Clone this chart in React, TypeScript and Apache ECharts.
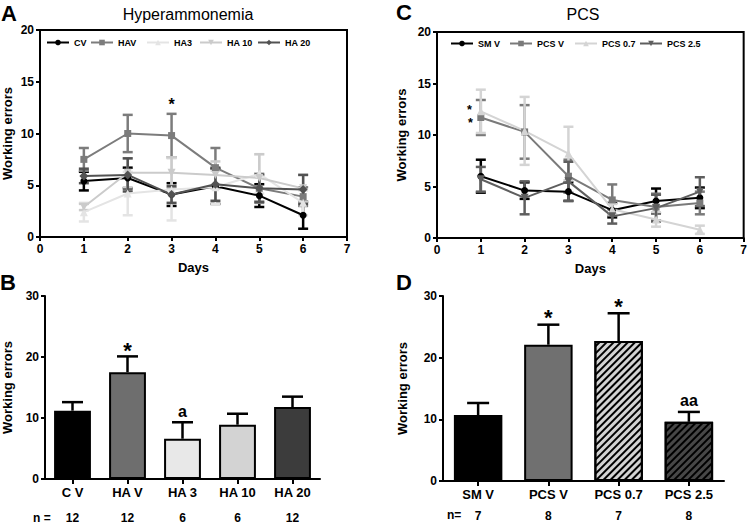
import React, { useEffect, useRef } from "react";
import * as echarts from "echarts";

// ---------- DATA ----------
const days = [1, 2, 3, 4, 5, 6];

// Panel A – Hyperammonemia (mean, SEM)
const cvMean = [5.4, 5.7, 4.1, 4.9, 4.0, 2.1];
const cvErr = [0.9, 1.0, 1.1, 1.7, 1.1, 1.3];
const havMean = [7.5, 10.0, 9.8, 6.7, 4.7, 3.9];
const havErr = [1.1, 1.8, 2.1, 1.9, 1.4, 0.9];
const ha3Mean = [2.4, 4.2, 4.6, 4.8, 6.1, 3.3];
const ha3Err = [0.9, 2.1, 3.0, 1.6, 1.9, 1.2];
const ha10Mean = [2.9, 6.2, 6.2, 6.0, 5.7, 4.7];
const ha10Err = [0.3, 1.4, 1.5, 1.3, 2.3, 1.3];
const ha20Mean = [5.9, 6.0, 4.1, 5.1, 4.7, 4.6];
const ha20Err = [0.7, 1.6, 0.8, 1.6, 1.3, 1.4];

// Panel C – PCS (mean, SEM)
const smvMean = [6.0, 4.6, 4.5, 2.7, 3.6, 3.9];
const smvErr = [1.6, 0.8, 0.9, 0.7, 1.2, 1.0];
const pcsvMean = [11.7, 10.3, 6.0, 3.7, 3.0, 3.4];
const pcsvErr = [1.7, 2.6, 1.6, 1.5, 1.3, 1.1];
const pcs07Mean = [12.3, 10.4, 8.2, 2.8, 1.8, 0.8];
const pcs07Err = [2.1, 3.3, 2.6, 0.5, 0.7, 0.4];
const pcs25Mean = [5.7, 3.9, 5.5, 2.1, 2.9, 4.5];
const pcs25Err = [1.2, 1.6, 1.9, 0.7, 1.3, 1.4];

// Panel B – totals
const bCategories = ["C V", "HA V", "HA 3", "HA 10", "HA 20"];
const bValues = [11.2, 17.5, 6.6, 8.9, 11.8];
const bErrors = [1.4, 2.6, 2.7, 1.8, 1.7];
const bN = [12, 12, 6, 6, 12];

// Panel D – totals
const dCategories = ["SM V", "PCS V", "PCS 0.7", "PCS 2.5"];
const dValues = [10.7, 22.1, 22.7, 9.6];
const dErrors = [1.95, 3.25, 4.5, 1.6];
const dN = [7, 8, 7, 8];

// ---------- STYLE ----------
const FONT = '"Liberation Sans", Arial, Helvetica, sans-serif';
const BLACK = "#000";

type Note = { idx: number; text: string; size: number; gap: number; side: "top" | "left"; dy?: number };

function errorSeries(
  name: string,
  gi: number,
  xs: number[],
  means: number[],
  errs: number[],
  color: string,
  capHalf: number,
  upOnly: boolean,
  notes: Note[] = [],
  lw = 2.5
) {
  return {
    type: "custom",
    name: name + "__err",
    xAxisIndex: gi,
    yAxisIndex: gi,
    z: 2,
    silent: true,
    data: xs.map((x, i) => [x, means[i], errs[i]]),
    renderItem: (params: any, api: any) => {
      const x = api.value(0);
      const m = api.value(1);
      const e = api.value(2);
      const pm = api.coord([x, m]);
      const pt = api.coord([x, m + e]);
      const pb = upOnly ? pm : api.coord([x, m - e]);
      const st = { stroke: color, lineWidth: lw };
      const children: any[] = [
        { type: "line", shape: { x1: pm[0], y1: pb[1], x2: pm[0], y2: pt[1] }, style: st },
        { type: "line", shape: { x1: pm[0] - capHalf, y1: pt[1], x2: pm[0] + capHalf, y2: pt[1] }, style: st },
      ];
      if (!upOnly) {
        children.push({
          type: "line",
          shape: { x1: pm[0] - capHalf, y1: pb[1], x2: pm[0] + capHalf, y2: pb[1] },
          style: st,
        });
      }
      notes
        .filter((n) => n.idx === params.dataIndex)
        .forEach((n) => {
          const common: any = {
            text: n.text,
            fontSize: n.size,
            fontWeight: "bold",
            fontFamily: FONT,
            fill: BLACK,
          };
          if (n.side === "top") {
            children.push({
              type: "text",
              x: pm[0],
              y: pt[1] - n.gap,
              style: { ...common, align: "center", verticalAlign: "bottom" },
            });
          } else {
            children.push({
              type: "text",
              x: pm[0] - n.gap,
              y: pm[1] + (n.dy || 0),
              style: { ...common, align: "right", verticalAlign: "middle" },
            });
          }
        });
      return { type: "group", children };
    },
  };
}

type LineDef = {
  name: string;
  mean: number[];
  err: number[];
  color: string;
  symbol: string;
  size: number;
  rotate?: number;
  notes?: Note[];
};

const aLines: LineDef[] = [
  { name: "CV", mean: cvMean, err: cvErr, color: "#000000", symbol: "circle", size: 7 },
  {
    name: "HAV", mean: havMean, err: havErr, color: "#7c7c7c", symbol: "rect", size: 7,
    notes: [{ idx: 2, text: "*", size: 16, gap: 1, side: "top" }],
  },
  { name: "HA3", mean: ha3Mean, err: ha3Err, color: "#e4e4e4", symbol: "triangle", size: 8 },
  { name: "HA 10", mean: ha10Mean, err: ha10Err, color: "#cbcbcb", symbol: "triangle", size: 8, rotate: 180 },
  { name: "HA 20", mean: ha20Mean, err: ha20Err, color: "#525252", symbol: "diamond", size: 9 },
];

const cLines: LineDef[] = [
  { name: "SM V", mean: smvMean, err: smvErr, color: "#000000", symbol: "circle", size: 7 },
  {
    name: "PCS V", mean: pcsvMean, err: pcsvErr, color: "#7a7a7a", symbol: "rect", size: 7,
    notes: [{ idx: 0, text: "*", size: 12.5, gap: 8, side: "left", dy: 5.2 }],
  },
  {
    name: "PCS 0.7", mean: pcs07Mean, err: pcs07Err, color: "#d4d4d4", symbol: "triangle", size: 8,
    notes: [{ idx: 0, text: "*", size: 12.5, gap: 9, side: "left", dy: -1.8 }],
  },
  { name: "PCS 2.5", mean: pcs25Mean, err: pcs25Err, color: "#5e5e5e", symbol: "triangle", size: 8, rotate: 180 },
];

function buildLineSeries(defs: LineDef[], gi: number) {
  const out: any[] = [];
  defs.forEach((d) => {
    out.push(errorSeries(d.name, gi, days, d.mean, d.err, d.color, 5, false, d.notes || [], 2.5));
  });
  defs.forEach((d) => {
    out.push({
      type: "line",
      name: d.name,
      xAxisIndex: gi,
      yAxisIndex: gi,
      z: 3,
      data: days.map((x, i) => [x, d.mean[i]]),
      symbol: d.symbol,
      symbolSize: d.size,
      symbolRotate: d.rotate || 0,
      showAllSymbol: true,
      lineStyle: { color: d.color, width: 2 },
      itemStyle: { color: d.color, borderWidth: 0 },
    });
  });
  return out;
}

const axisLine = { show: true, onZero: false, lineStyle: { color: BLACK, width: 2 } };
const tickStyle = { show: true, length: 4, lineStyle: { color: BLACK, width: 2 } };
const tickLabel = (size: number, margin: number) => ({
  color: BLACK,
  fontSize: size,
  fontWeight: "bold" as const,
  fontFamily: FONT,
  margin,
});
const nameStyle = { color: BLACK, fontSize: 13, fontWeight: "bold" as const, fontFamily: FONT };

function dayAxis(gi: number) {
  return {
    type: "value",
    gridIndex: gi,
    min: 0,
    max: 7,
    interval: 1,
    axisLine,
    axisTick: tickStyle,
    axisLabel: tickLabel(12, 6),
    splitLine: { show: false },
    name: "Days",
    nameLocation: "middle",
    nameGap: 24,
    nameTextStyle: nameStyle,
  };
}

function errAxis(gi: number, max: number, interval: number, gap: number) {
  return {
    type: "value",
    gridIndex: gi,
    min: 0,
    max,
    interval,
    axisLine,
    axisTick: tickStyle,
    axisLabel: tickLabel(12, 6),
    splitLine: { show: false },
    name: "Working errors",
    nameLocation: "middle",
    nameGap: gap,
    nameTextStyle: nameStyle,
  };
}

function catAxis(gi: number, cats: string[], ns: number[], lineH: number, margin: number) {
  return {
    type: "category",
    gridIndex: gi,
    data: cats,
    axisLine,
    axisTick: { ...tickStyle, length: 5, alignWithLabel: true },
    axisLabel: {
      margin,
      interval: 0,
      formatter: (v: string, i: number) => `{c|${v}}\n{n|${ns[i]}}`,
      rich: {
        c: { fontSize: 13, fontWeight: "bold", fontFamily: FONT, color: BLACK, lineHeight: lineH },
        n: { fontSize: 12, fontWeight: "bold", fontFamily: FONT, color: BLACK, lineHeight: lineH },
      },
    },
  };
}

const bColors = ["#000000", "#6e6e6e", "#e8e8e8", "#d3d3d3", "#3c3c3c"];
const dColors = ["#000000", "#707070", "#d3d3d3", "#474747"];
const hatch = {
  symbol: "rect",
  symbolSize: 1,
  color: "#000",
  dashArrayX: [1, 0],
  dashArrayY: [1.5, 2.2],
  rotation: -Math.PI / 4,
};

const bSeries = {
  type: "bar",
  name: "B",
  xAxisIndex: 2,
  yAxisIndex: 2,
  barWidth: "67%",
  z: 3,
  data: bValues.map((v, i) => ({
    value: v,
    itemStyle: { color: bColors[i], borderColor: BLACK, borderWidth: 2 },
  })),
};

const dSeries = {
  type: "bar",
  name: "D",
  xAxisIndex: 3,
  yAxisIndex: 3,
  barWidth: "69%",
  z: 3,
  data: dValues.map((v, i) => ({
    value: v,
    itemStyle: {
      color: dColors[i],
      borderColor: BLACK,
      borderWidth: 2,
      ...(i >= 2 ? { decal: hatch } : {}),
    },
  })),
};

function legendItems(defs: LineDef[], lefts: number[], top: number) {
  return defs.map((d, i) => ({
    data: [d.name],
    left: lefts[i],
    top,
    itemWidth: 22,
    itemHeight: 7,
    padding: 0,
    textStyle: { fontSize: 9, fontWeight: "bold", fontFamily: FONT, color: BLACK },
    selectedMode: false,
  }));
}

function label(text: string, x: number, y: number, size: number, weight = "bold", align = "center") {
  return {
    type: "text",
    x,
    y,
    style: {
      text,
      fontSize: size,
      fontWeight: weight,
      fontFamily: FONT,
      fill: BLACK,
      align,
      verticalAlign: "middle",
    },
  };
}

const option = {
  animation: false,
  backgroundColor: "#ffffff",
  grid: [
    { left: 37, top: 30, width: 310, height: 207, show: true, borderColor: BLACK, borderWidth: 2, backgroundColor: "transparent" },
    { left: 437, top: 32, width: 309, height: 206, show: true, borderColor: BLACK, borderWidth: 2, backgroundColor: "transparent" },
    { left: 42, top: 296, width: 278, height: 183 },
    { left: 443, top: 296, width: 281, height: 185 },
  ],
  xAxis: [dayAxis(0), dayAxis(1), catAxis(2, bCategories, bN, 26, 0), catAxis(3, dCategories, dN, 21, 3)],
  yAxis: [
    errAxis(0, 20, 5, 26),
    errAxis(1, 20, 5, 29),
    errAxis(2, 30, 10, 31),
    errAxis(3, 30, 10, 34),
  ],
  legend: [
    ...legendItems(aLines, [46, 90, 146, 199, 257], 38),
    ...legendItems(cLines, [450, 509, 574, 639], 39),
  ],
  series: [
    ...buildLineSeries(aLines, 0),
    ...buildLineSeries(cLines, 1),
    bSeries,
    errorSeries("B", 2, bValues.map((_, i) => i), bValues, bErrors, BLACK, 10.5, true, [
      { idx: 1, text: "*", size: 22, gap: -5, side: "top" },
      { idx: 2, text: "a", size: 16, gap: 3, side: "top" },
    ]),
    dSeries,
    errorSeries("D", 3, dValues.map((_, i) => i), dValues, dErrors, BLACK, 11, true, [
      { idx: 1, text: "*", size: 22, gap: -4, side: "top" },
      { idx: 2, text: "*", size: 22, gap: -4, side: "top" },
      { idx: 3, text: "aa", size: 16, gap: 3, side: "top" },
    ]),
  ],
  graphic: [
    label("A", 9, 13, 22),
    label("B", 8, 282, 22),
    label("C", 404, 12, 22),
    label("D", 404, 282, 22),
    label("Hyperammonemia", 188, 14, 16, "normal"),
    label("PCS", 583, 14, 16, "normal"),
    label("n =", 33, 518, 12, "bold", "left"),
    label("n=", 447, 515, 12, "bold", "left"),
  ],
};

export default function App() {
  const ref = useRef<HTMLDivElement>(null);
  useEffect(() => {
    if (!ref.current) return;
    const chart = echarts.init(ref.current, null, { renderer: "svg" });
    chart.setOption(option as any);
    return () => chart.dispose();
  }, []);
  return (
    <div
      ref={ref}
      style={{ position: "absolute", left: 0, top: 0, width: 750, height: 524, background: "#fff" }}
    />
  );
}
